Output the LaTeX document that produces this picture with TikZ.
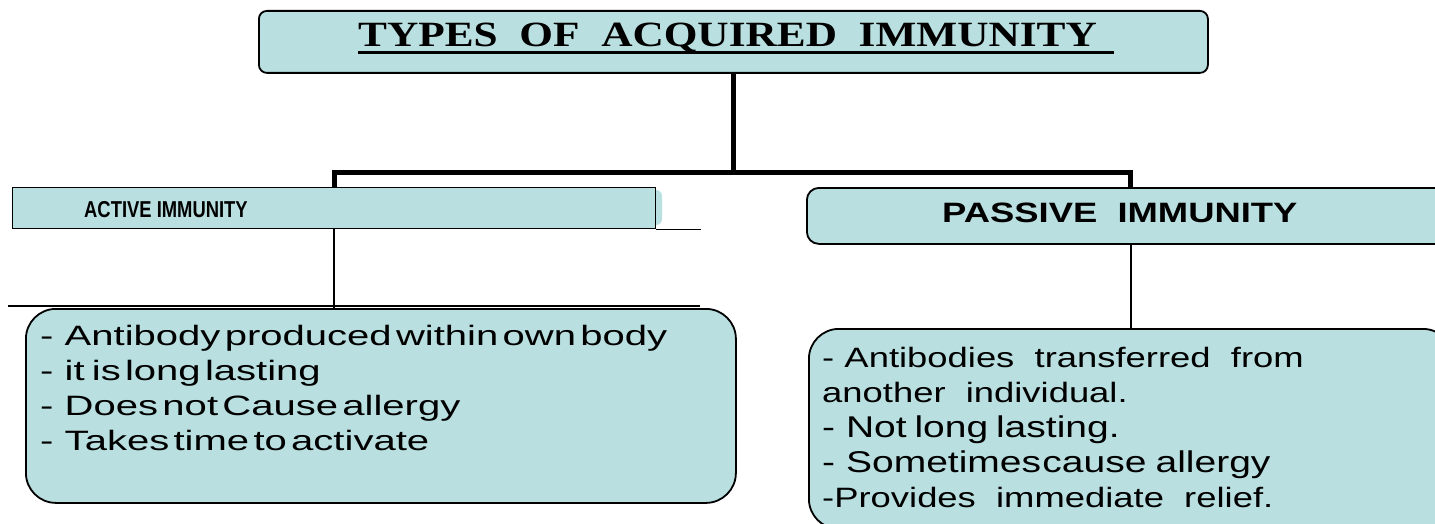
\documentclass[tikz,border=0pt]{standalone}
\usepackage{fontspec}
\setmainfont{Liberation Serif}
\setsansfont{Liberation Sans}
\usepackage{graphicx}
\definecolor{boxcyan}{RGB}{185,223,224}
\newcommand{\dsh}{-\hspace{0.28em}}
\begin{document}
\begin{tikzpicture}[x=1pt,y=-1pt,
    box/.style={draw=black, line width=1.8pt, fill=boxcyan, inner sep=0pt},
    trunk/.style={line width=5pt},
    branch/.style={line width=2.6pt},
    listtext/.style={font=\sffamily\fontsize{28}{35}\selectfont, align=left, anchor=base west, inner sep=0pt}]

    % Cornice della pagina
    \useasboundingbox (0,0) rectangle (1435,524);
    \clip (0,0) rectangle (1435,524);

    % Riquadro del titolo
    \node[box, rounded corners=8pt, minimum width=949, minimum height=62, anchor=north west] (title) at (258,10) {};
    \node[inner sep=0pt, anchor=base west, font=\rmfamily\bfseries\fontsize{35.5}{40}\selectfont] (titlelbl) at (358,47)
        {\scalebox{1.22}[1]{TYPES\ \ OF\ \ ACQUIRED\ \ IMMUNITY}};
    \draw[line width=3pt] ([yshift=-6pt]titlelbl.base west) -- ([yshift=-6pt,xshift=17pt]titlelbl.base east);

    % Riquadri dei due tipi
    \fill[boxcyan, rounded corners=6pt] (645,190) rectangle (662,225);
    \node[box, line width=1.2pt, minimum width=643, minimum height=41, anchor=north west] (active) at (12,187) {};
    \node[anchor=base west, inner sep=0pt, font=\sffamily\bfseries\fontsize{23}{26}\selectfont] (activelbl) at (84,217.5)
        {\scalebox{0.8}[1]{ACTIVE IMMUNITY}};
    \node[box, rounded corners=12pt, minimum width=648, minimum height=56, anchor=north west] (passive) at (806,187) {};
    \node[anchor=base west, inner sep=0pt, font=\sffamily\bfseries\fontsize{28}{32}\selectfont] (passivelbl) at (942,222)
        {\scalebox{1.3}[1]{PASSIVE\ \ IMMUNITY}};

    % Riquadri delle caratteristiche
    \node[box, rounded corners=30pt, minimum width=710, minimum height=194, anchor=north west] (activeinfo) at (25,308) {};
    \node[listtext] (activetxt) at (40,345.5)
        {\scalebox{1.43}[1]{\spaceskip=3pt
         \begin{tabular}[t]{@{}l@{}}
         \dsh Antibody produced within own body\\
         \dsh it\hspace{5pt}is long lasting\\
         \dsh Does not Cause allergy\\
         \dsh Takes time to activate
         \end{tabular}}};
    \node[box, rounded corners=30pt, minimum width=644, minimum height=200, anchor=north west] (passiveinfo) at (808,328) {};
    \node[listtext] (passivetxt) at (822,367)
        {\scalebox{1.3}[1]{%
         \begin{tabular}[t]{@{}l@{}}
         \dsh Antibodies\ \ transferred\ \ from\\
         another\ \ individual.\\
         {\fontsize{30}{35}\selectfont\dsh Not\hspace{6pt}long\hspace{6pt}lasting.}\\
         {\fontsize{30}{35}\selectfont\dsh Sometimes\hspace{1pt}cause\hspace{7pt}allergy}\\
         -Provides\ \ immediate\ \ relief.
         \end{tabular}}};

    % Linee sotto il riquadro attivo
    \draw[line width=1.2pt] (active.south east) -- ++(45,0);
    \draw[line width=1.2pt] (8,306) -- (700,306);

    % Collegamenti
    \draw[trunk] (title.south) -- (title.south |- 0,172);
    \draw[trunk] (active.north) -- ++(0,-15) -| (passive.north);
    \draw[branch] (active.south) -- (active.south |- activeinfo.north);
    \draw[branch] (passive.south) -- (passiveinfo.north);

\end{tikzpicture}
\end{document}
